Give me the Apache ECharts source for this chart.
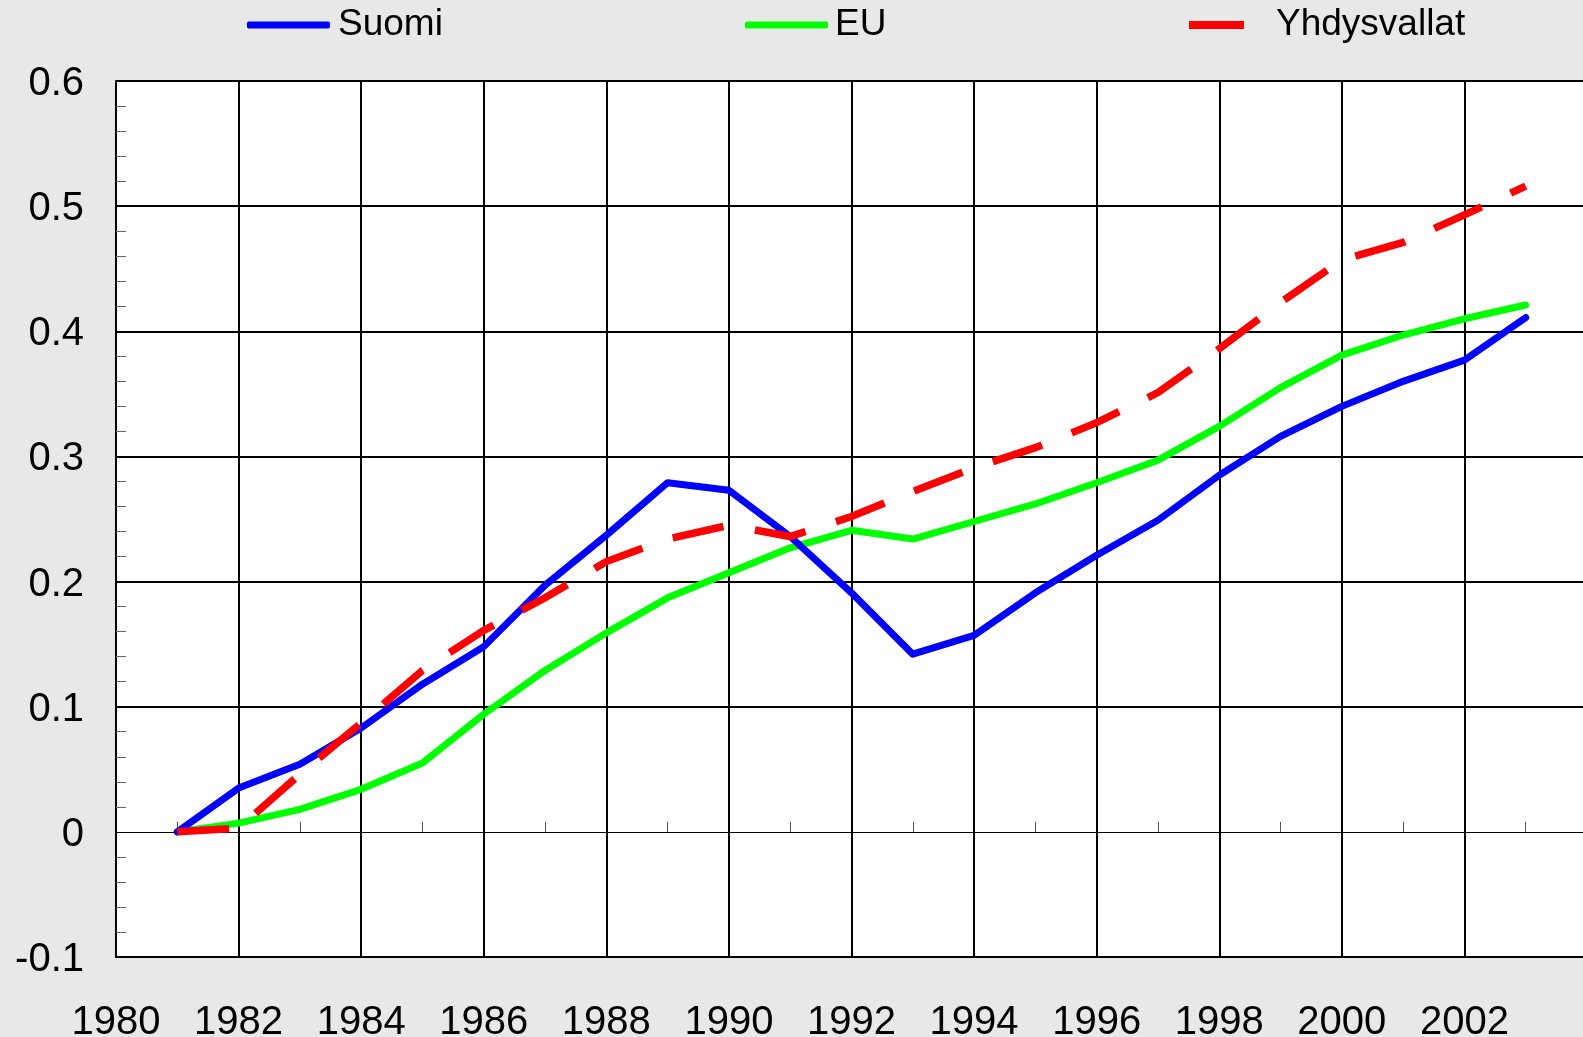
<!DOCTYPE html>
<html>
<head>
<meta charset="utf-8">
<script src="https://cdn.jsdelivr.net/npm/echarts@6/dist/echarts.min.js"></script>
<style>
html,body{margin:0;padding:0;background:#e8e8e8;}
#chart{width:1583px;height:1037px;}
</style>
</head>
<body>
<div id="chart"></div>
<script>
var years = [1981,1982,1983,1984,1985,1986,1987,1988,1989,1990,1991,1992,1993,1994,1995,1996,1997,1998,1999,2000,2001,2002,2003];
var suomi = [0,0.035,0.054,0.083,0.118,0.148,0.197,0.237,0.279,0.273,0.236,0.191,0.142,0.157,0.191,0.221,0.249,0.285,0.316,0.340,0.360,0.377,0.411];
var eu = [0,0.007,0.018,0.034,0.055,0.094,0.129,0.159,0.187,0.207,0.227,0.241,0.234,0.248,0.262,0.279,0.297,0.324,0.355,0.381,0.397,0.410,0.421];
var usa = [0,0.003,0.046,0.087,0.129,0.161,0.187,0.216,0.234,0.245,0.236,0.252,0.272,0.291,0.307,0.327,0.351,0.386,0.423,0.457,0.471,0.493,0.516];
var seriesNames = ['Suomi','EU','Yhdysvallat'];
var xTickLabels = ['1980','1982','1984','1986','1988','1990','1992','1994','1996','1998','2000','2002'];

function pairs(vals){ return years.map(function(y,i){ return [y, vals[i]]; }); }

var FONT = '"Liberation Sans", Arial, sans-serif';
var chart = echarts.init(document.getElementById('chart'), null, {renderer:'canvas'});
function legendFor(name, left, w, h, icon, padLeft){
  return {
    top: 5, left: left, padding: 0, orient: 'horizontal', itemWidth: w, itemHeight: h,
    selectedMode: false,
    data: [{name: name, icon: icon}],
    textStyle: {fontFamily: FONT, fontSize: 37, color: '#000', lineHeight: 40, padding: [0,0,0,padLeft]}
  };
}
chart.setOption({
  backgroundColor: '#e8e8e8',
  animation: false,
  legend: [
    legendFor(seriesNames[0], 247, 83, 7, 'roundRect', 3),
    legendFor(seriesNames[1], 745, 83, 7, 'roundRect', 2),
    legendFor(seriesNames[2], 1189, 55, 8, 'rect', 27)
  ],
  grid: {left: 116, top: 81, right: -4, bottom: 80, show: true, backgroundColor: '#ffffff', borderWidth: 0, containLabel: false, outerBoundsMode: 'none'},
  xAxis: [
    {
      type: 'value', min: 1980, max: 2004, interval: 2, position: 'bottom',
      axisLine: {onZero: false, lineStyle: {color: '#000', width: 2}},
      axisTick: {show: false},
      axisLabel: {fontFamily: FONT, fontSize: 40, color: '#000', margin: 46, lineHeight: 40,
        showMaxLabel: false,
        formatter: function(v){ var s = String(v); return xTickLabels.indexOf(s) >= 0 ? s : ''; }},
      splitLine: {show: true, lineStyle: {color: '#000', width: 2}}
    },
    {
      type: 'value', min: 1980, max: 2004, interval: 2, position: 'top',
      axisLine: {onZero: true, lineStyle: {color: '#000', width: 1}},
      axisTick: {show: false},
      minorTick: {show: true, splitNumber: 2, length: 10, lineStyle: {color: '#555', width: 1}},
      axisLabel: {show: false},
      splitLine: {show: false}
    }
  ],
  yAxis: {
    type: 'value', min: -0.1, max: 0.6, interval: 0.1,
    axisLine: {show: true, onZero: false, lineStyle: {color: '#000', width: 2}},
    axisTick: {show: false, inside: true},
    minorTick: {show: true, splitNumber: 5, length: 10, lineStyle: {color: '#666', width: 1}},
    axisLabel: {fontFamily: FONT, fontSize: 40, color: '#000', margin: 32, lineHeight: 6, verticalAlign: 'top',
      formatter: function(v){ return String(Math.round(v*10)/10); }},
    splitLine: {show: true, lineStyle: {color: ['#000','rgba(0,0,0,0)','#000','#000','#000','#000','#000','#000'], width: 2}}
  },
  series: [
    {name: seriesNames[0], type: 'line', data: pairs(suomi), showSymbol: false, symbol: 'none', z: 4,
      lineStyle: {color: '#0000ff', width: 7, cap: 'round', join: 'round'}, itemStyle: {color: '#0000ff'}},
    {name: seriesNames[1], type: 'line', data: pairs(eu), showSymbol: false, symbol: 'none', z: 3,
      lineStyle: {color: '#00ff00', width: 7, cap: 'round', join: 'round'}, itemStyle: {color: '#00ff00'}},
    {name: seriesNames[2], type: 'line', data: pairs(usa), showSymbol: false, symbol: 'none', z: 5,
      lineStyle: {color: '#ff0000', width: 7.5, type: [52, 32], cap: 'butt', join: 'miter'}, itemStyle: {color: '#ff0000'}}
  ]
});
</script>
</body>
</html>
